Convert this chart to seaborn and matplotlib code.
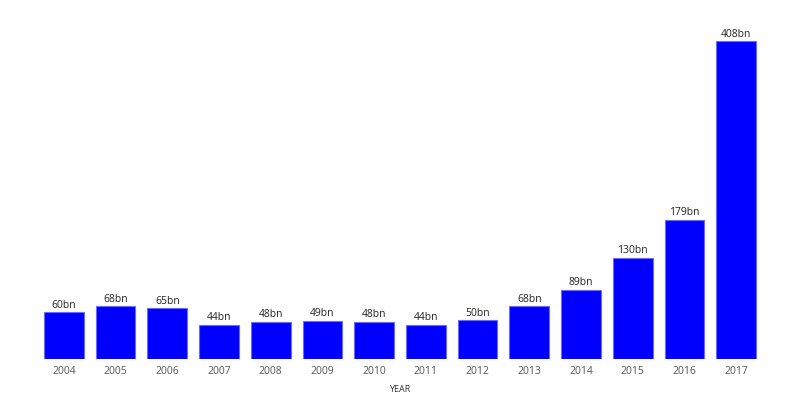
import seaborn as sns
import matplotlib.pyplot as plt
import pandas as pd

years = ['2004', '2005', '2006', '2007', '2008', '2009', '2010',
         '2011', '2012', '2013', '2014', '2015', '2016', '2017']
values = [60, 68, 65, 44, 48, 49, 48, 44, 50, 68, 89, 130, 179, 408]
labels = [f'{v}bn' for v in values]

df = pd.DataFrame({'year': years, 'value': values})

sns.set_style('white')
plt.rcParams['font.family'] = ['Open Sans', 'DejaVu Sans']

fig = plt.figure(figsize=(8, 4.1), dpi=100)
ax = fig.add_axes([0.0475, 0.122, 0.905, 0.817])

sns.barplot(data=df, x='year', y='value', color='#0000ff', saturation=1,
            width=0.77, edgecolor='#6b6bff', linewidth=0.8, ax=ax)

for i, (v, lab) in enumerate(zip(values, labels)):
    ax.text(i, v + 3, lab, ha='center', va='bottom', fontsize=7.5, color='#222222')

ax.set_xlim(-0.5, len(years) - 0.5)
ax.set_ylim(0, 430)
ax.set_yticks([])
ax.set_ylabel('')
ax.set_xlabel('YEAR', fontsize=6.5, color='#333333', labelpad=6)
ax.tick_params(axis='x', length=0, labelsize=7.5, colors='#555555', pad=4)
sns.despine(ax=ax, left=True, bottom=True)

fig.savefig('out.png', dpi=100)
